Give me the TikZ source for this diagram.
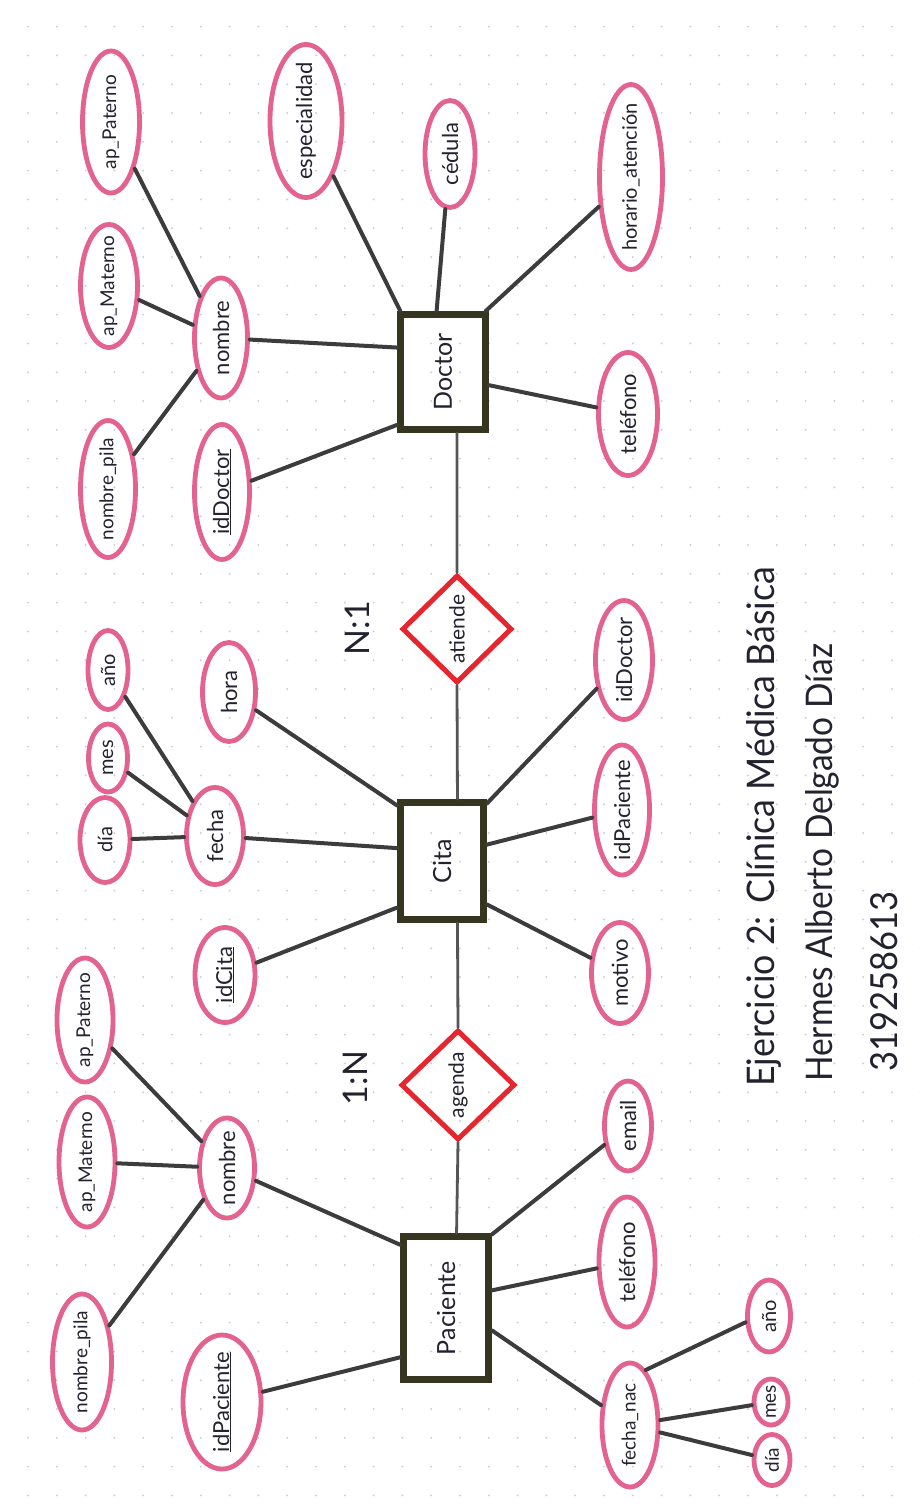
\documentclass[tikz,border=0pt]{standalone}
\usepackage{fontspec}
\setmainfont{Lato}
\usepackage{graphicx}
\usetikzlibrary{shapes.geometric}
\definecolor{pinkc}{HTML}{E4628F}
\definecolor{relc}{HTML}{E5262E}
\definecolor{entc}{HTML}{36351F}
\definecolor{linec}{HTML}{3C3C3C}
\definecolor{chainc}{HTML}{555555}
\definecolor{textc}{HTML}{23232F}
\definecolor{dotc}{HTML}{CFCFCF}
\newcommand{\rt}[1]{\rotatebox{90}{\makebox[0pt]{#1}}}
\begin{document}
\begin{tikzpicture}[x=1pt,y=-1pt,
  attr/.style={ellipse, draw=pinkc, line width=4.8pt, inner sep=0pt, text=textc,
               font=\fontsize{22}{22}\selectfont},
  small/.style={font=\fontsize{20}{20}\selectfont},
  narrow/.style={font=\fontsize{20}{20}\selectfont},
  tight/.style={font=\fontsize{19}{19}\selectfont},
  sz/.style 2 args={minimum width=#1pt, minimum height=#2pt},
  ent/.style={rectangle, draw=entc, line width=7pt, inner sep=0pt,
              font=\fontsize{25}{25}\selectfont, text=textc},
  rel/.style={diamond, draw=relc, line width=5pt, inner sep=0pt, aspect=1,
              font=\fontsize{21}{21}\selectfont, text=textc},
  conn/.style={draw=linec, line width=4pt, line cap=round},
  chain/.style={draw=chainc, line width=2.8pt, line cap=round},
  card/.style={font=\fontsize{34}{34}\selectfont, text=textc, inner sep=0pt},
  ttl/.style={text=textc, inner sep=0pt, anchor=south}
]
% page and dotted paper
\useasboundingbox (0,0) rectangle (920,1507);
\fill[white] (0,0) rectangle (920,1507);
\foreach \i in {0,...,31}{
  \foreach \j in {0,...,51}{
    \fill[dotc] ({28+28.8*\i},{26.6+28.8*\j}) circle (1.1pt);
  }
}

% ---------------- Doctor ----------------
\node[ent, minimum width=85pt, minimum height=115pt] (doc) at (443,372) {\rt{Doctor}};
\node[attr, tight, sz={57}{142}] (dap) at (111,122) {\rt{ap\_Paterno}};
\node[attr, tight, sz={57}{123}] (dam) at (109,286) {\rt{ap\_Materno}};
\node[attr, tight, sz={55}{137}] (dnp) at (108,489) {\rt{nombre\_pila}};
\node[attr, sz={53}{120}] (dnom) at (221,338) {\rt{nombre}};
\node[attr, sz={55}{135}] (diddoc) at (222,492) {\rt{\underline{idDoctor}}};
\node[attr, sz={72}{153}] (desp) at (306,121) {\rt{especialidad}};
\node[attr, sz={50}{107}] (dced) at (450,154) {\rt{cédula}};
\node[attr, narrow, sz={63}{185}] (dhor) at (631,177) {\rt{horario\_atención}};
\node[attr, sz={59}{123}] (dtel) at (628,414) {\rt{teléfono}};

\node[rel, minimum width=110pt, minimum height=108pt] (atiende) at (457,629) {\rt{atiende}};
\node[card] (c1) at (357,628) {\rotatebox{90}{N:1}};

% ---------------- Cita ----------------
\node[ent, minimum width=83pt, minimum height=117pt] (cita) at (442,861) {\rt{Cita}};
\node[attr, small, sz={40}{79}] (cano) at (108,670) {\rt{año}};
\node[attr, small, sz={39}{68}] (cmes) at (108,758) {\rt{mes}};
\node[attr, small, sz={50}{85}] (cdia) at (105,840) {\rt{día}};
\node[attr, sz={57}{97}] (cfec) at (215,836) {\rt{fecha}};
\node[attr, sz={53}{99}] (chor) at (229,692) {\rt{hora}};
\node[attr, sz={60}{95}] (cid) at (225,975) {\rt{\underline{idCita}}};
\node[attr, sz={57}{119}] (cidd) at (624,660) {\rt{idDoctor}};
\node[attr, sz={55}{130}] (cidp) at (622,810) {\rt{idPaciente}};
\node[attr, sz={57}{101}] (cmot) at (620,973) {\rt{motivo}};

\node[rel, minimum width=114pt, minimum height=110pt] (agenda) at (458,1085) {\rt{agenda}};
\node[card] (c2) at (355,1078) {\rotatebox{90}{1:N}};

% ---------------- Paciente ----------------
\node[ent, minimum width=85pt, minimum height=143pt] (pac) at (446,1308) {\rt{Paciente}};
\node[attr, tight, sz={56}{124}] (pap) at (85,1020) {\rt{ap\_Paterno}};
\node[attr, tight, sz={56}{130}] (pam) at (87,1162) {\rt{ap\_Materno}};
\node[attr, tight, sz={59}{136}] (pnp) at (82,1362) {\rt{nombre\_pila}};
\node[attr, sz={55}{100}] (pnom) at (227,1168) {\rt{nombre}};
\node[attr, sz={78}{134}] (pidp) at (222,1402) {\rt{\underline{idPaciente}}};
\node[attr, sz={47}{90}] (pema) at (628,1126) {\rt{email}};
\node[attr, sz={56}{130}] (ptel) at (627,1262) {\rt{teléfono}};
\node[attr, tight, sz={56}{124}] (pfn) at (630,1425) {\rt{fecha\_nac}};
\node[attr, small, sz={43}{72}] (pano) at (769,1316) {\rt{año}};
\node[attr, tight, sz={34}{46}] (pmes) at (771,1402) {\rt{mes}};
\node[attr, tight, sz={36}{51}] (pdia) at (772,1460) {\rt{día}};

% ---------------- title ----------------
\node[ttl] (t1) at (764,1087) {\rotatebox{90}{\resizebox{520pt}{28pt}{\fontsize{30}{30}\selectfont Ejercicio 2: Clínica Médica Básica}}};
\node[ttl] (t2) at (822,1082) {\rotatebox{90}{\resizebox{438pt}{27pt}{\fontsize{30}{30}\selectfont Hermes Alberto Delgado Díaz}}};
\node[ttl] (t3) at (884,1072) {\rotatebox{90}{\resizebox{180pt}{27pt}{\fontsize{30}{30}\selectfont 319258613}}};

% ---------------- connectors ----------------
\draw[conn] (doc.229) -- (diddoc);
\draw[conn] (doc.152) -- (dnom);
\draw[conn] (doc.125) -- (desp);
\draw[conn] (doc.96) -- (dced);
\draw[conn] (doc.55) -- (dhor);
\draw[conn] (doc.344) -- (dtel);
\draw[conn] (dnom) -- (dap);
\draw[conn] (dnom) -- (dam);
\draw[conn] (dnom) -- (dnp);
\draw[chain] (doc.283) -- (atiende.north);

\draw[chain] (atiende.south) -- (cita.76);
\draw[conn] (cita.129) -- (chor);
\draw[conn] (cita.164) -- (cfec);
\draw[conn] (cita.226) -- (cid);
\draw[conn] (cita.52) -- (cidd);
\draw[conn] (cita.20) -- (cidp);
\draw[conn] (cita.316) -- (cmot);
\draw[conn] (cfec) -- (cdia);
\draw[conn] (cfec) -- (cmes);
\draw[conn] (cfec) -- (cano);
\draw[chain] (cita.284) -- (agenda.north);

\draw[chain] (agenda.south) -- (pac.82);
\draw[conn] (pac.126) -- (pnom);
\draw[conn] (pac.227) -- (pidp);
\draw[conn] (pac.58) -- (pema);
\draw[conn] (pac.21) -- (ptel);
\draw[conn] (pac.334) -- (pfn);
\draw[conn] (pnom) -- (pap);
\draw[conn] (pnom) -- (pam);
\draw[conn] (pnom) -- (pnp);
\draw[conn] (pfn.74) -- (pano.195);
\draw[conn] (pfn) -- (pmes);
\draw[conn] (pfn) -- (pdia);
\end{tikzpicture}
\end{document}
